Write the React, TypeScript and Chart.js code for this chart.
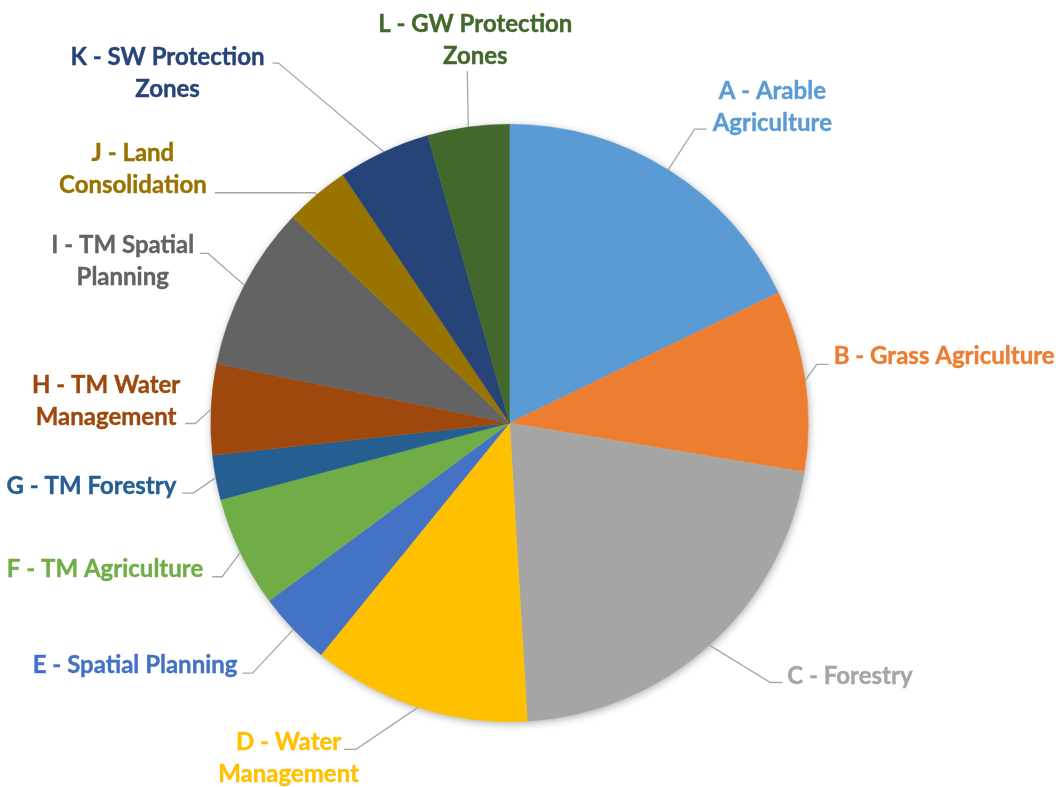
import React, { useEffect, useRef } from "react";
import { Chart, registerables } from "chart.js";

Chart.register(...registerables);

// ---- data ----
const categories: string[][] = [
  ["A - Arable", "Agriculture"],
  ["B - Grass Agriculture"],
  ["C - Forestry"],
  ["D - Water", "Management"],
  ["E - Spatial Planning"],
  ["F - TM Agriculture"],
  ["G - TM Forestry"],
  ["H - TM Water", "Management"],
  ["I - TM Spatial", "Planning"],
  ["J - Land", "Consolidation"],
  ["K - SW Protection", "Zones"],
  ["L - GW Protection", "Zones"],
];

const shares: number[] = [17.8, 9.8, 21.4, 11.8, 4.0, 6.0, 2.4, 4.9, 8.9, 3.5, 5.0, 4.4];

const sliceColors: string[] = [
  "#5B9BD5", "#ED7D31", "#A5A5A5", "#FFC000", "#4472C4", "#70AD47",
  "#255E91", "#9E480E", "#636363", "#997300", "#264478", "#43682B",
];

// ---- label layout (leader elbow offset from slice edge, horizontal run, text side/gap, first-line y offset) ----
type LabelLayout = { ex: number; ey: number; hx: number; side: "l" | "r" | "t"; gap: number; ty: number };
const labelLayout: LabelLayout[] = [
  { ex: 26.5, ey: -40.7, hx: 12, side: "r", gap: 6, ty: -38 },
  { ex: 11.5, ey: -16, hx: 12, side: "r", gap: 5, ty: -8 },
  { ex: 61, ey: 37.4, hx: 12, side: "r", gap: 5, ty: -6 },
  { ex: -62, ey: 42, hx: -12, side: "l", gap: -15, ty: -7 },
  { ex: -41, ey: 43.7, hx: -10, side: "l", gap: 5, ty: -8 },
  { ex: -18, ey: 24.3, hx: -10, side: "l", gap: 9, ty: -7 },
  { ex: -22.5, ey: 15.5, hx: -11, side: "l", gap: 6, ty: -7 },
  { ex: -15.8, ey: 14.1, hx: -10, side: "l", gap: 5, ty: -38 },
  { ex: -36.3, ey: -31.7, hx: -8, side: "l", gap: 6, ty: -8 },
  { ex: -2, ey: -2, hx: -100, side: "l", gap: 8, ty: -39 },
  { ex: -105.4, ey: -88.9, hx: -6, side: "l", gap: 8, ty: -6 },
  { ex: -1, ey: -56, hx: 0, side: "t", gap: 8, ty: -47 },
];

const FONT = "bold 24px Lato";
const LINE_H = 32;
const LEADER = "#A6A6A6";

const outLabels = {
  id: "outLabels",
  beforeDatasetsDraw(chart: any) {
    const meta = chart.getDatasetMeta(0);
    const arc = meta.data[0];
    if (!arc) return;
    const { x, y, outerRadius } = arc.getProps(["x", "y", "outerRadius"], true);
    const ctx = chart.ctx;
    ctx.save();
    ctx.shadowColor = "rgba(0,0,0,0.35)";
    ctx.shadowBlur = 9;
    ctx.shadowOffsetX = 1;
    ctx.shadowOffsetY = 2;
    ctx.fillStyle = "#ffffff";
    ctx.beginPath();
    ctx.arc(x, y, outerRadius - 0.5, 0, Math.PI * 2);
    ctx.fill();
    ctx.restore();
  },
  afterDatasetsDraw(chart: any) {
    const meta = chart.getDatasetMeta(0);
    const ctx = chart.ctx;
    const labels = chart.data.labels as string[][];
    meta.data.forEach((arc: any, i: number) => {
      const { x, y, startAngle, endAngle, outerRadius } = arc.getProps(
        ["x", "y", "startAngle", "endAngle", "outerRadius"],
        true
      );
      const L = labelLayout[i];
      const mid = (startAngle + endAngle) / 2;
      const px = x + Math.cos(mid) * outerRadius;
      const py = y + Math.sin(mid) * outerRadius;
      const exx = px + L.ex;
      const eyy = py + L.ey;
      const qx = exx + L.hx;
      const qy = eyy;
      ctx.save();
      ctx.strokeStyle = LEADER;
      ctx.lineWidth = 1.3;
      ctx.beginPath();
      ctx.moveTo(px, py);
      ctx.lineTo(exx, eyy);
      ctx.lineTo(qx, qy);
      ctx.stroke();

      const lines = labels[i];
      ctx.font = FONT;
      const w = Math.max(...lines.map((s) => ctx.measureText(s).width));
      let cx: number;
      if (L.side === "r") cx = qx + L.gap + w / 2;
      else if (L.side === "l") cx = qx - L.gap - w / 2;
      else cx = qx + L.gap;
      ctx.fillStyle = sliceColors[i];
      ctx.strokeStyle = sliceColors[i];
      ctx.lineWidth = 0.4;
      ctx.textAlign = "center";
      ctx.textBaseline = "middle";
      lines.forEach((s, k) => {
        ctx.fillText(s, cx, qy + L.ty + k * LINE_H);
        ctx.strokeText(s, cx, qy + L.ty + k * LINE_H);
      });
      ctx.restore();
    });
  },
};

export default function App() {
  const ref = useRef<HTMLCanvasElement | null>(null);
  useEffect(() => {
    if (!ref.current) return;
    const chart = new Chart(ref.current, {
      type: "pie",
      data: {
        labels: categories as any,
        datasets: [
          {
            data: shares,
            backgroundColor: sliceColors,
            borderColor: sliceColors,
            borderWidth: 0.5,
          },
        ],
      },
      options: {
        responsive: false,
        animation: false,
        layout: { padding: { left: 210.5, right: 247.5, top: 124, bottom: 65 } },
        plugins: {
          legend: { display: false },
          tooltip: { enabled: false },
        },
      },
      plugins: [outLabels],
    });
    return () => chart.destroy();
  }, []);
  return (
    <div style={{ position: "absolute", left: 0, top: 0, width: 1056, height: 787, background: "#fff" }}>
      <canvas ref={ref} width={1056} height={787} style={{ display: "block" }} />
    </div>
  );
}
